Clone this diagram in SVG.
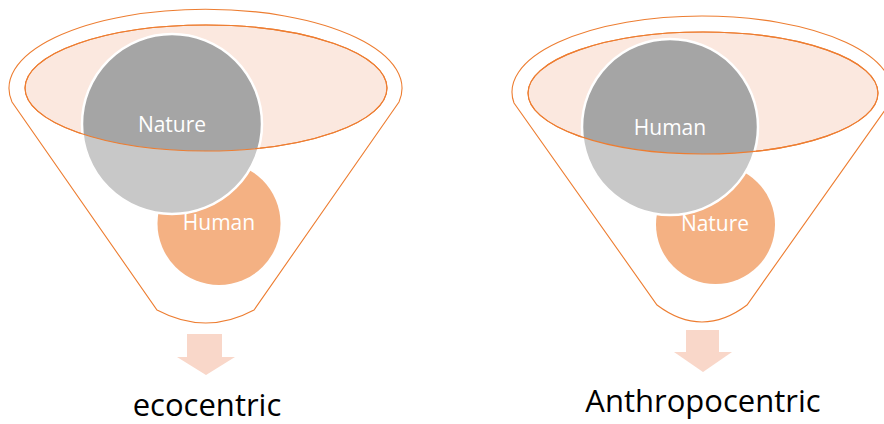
<svg xmlns="http://www.w3.org/2000/svg" width="884" height="424" viewBox="0 0 884 424">
<style>
.funnel{fill:#ffffff;stroke:#ed7d31;stroke-width:1.1}
.rim{fill:#fbe8df;stroke:#ed7d31;stroke-width:1.1}
.rimline{fill:none;stroke:#ed7d31;stroke-width:1.1}
.orange{fill:#f4b183}
.grayL{fill:#c8c8c8}
.grayD{fill:#a5a5a5}
.ring{fill:none;stroke:#ffffff;stroke-width:2.5}
.lbl{font-family:"Open Sans","Liberation Sans",sans-serif;font-size:21px;fill:#ffffff;text-anchor:middle}
.cap{font-family:"Open Sans","Liberation Sans",sans-serif;font-size:31px;fill:#000000;text-anchor:middle}
.arrow{fill:#f9d7c9}
</style>
<defs>
<clipPath id="clipL"><ellipse cx="206" cy="88" rx="181" ry="63"/></clipPath>
<clipPath id="clipR"><ellipse cx="703" cy="93" rx="175" ry="61"/></clipPath>
</defs>

<g id="funnel-left">
<path class="funnel" d="M12,102 A196.5,79 0 1 1 399,102 L254,310 Q206,336 157,310 Z"/>
<ellipse class="rim" cx="206" cy="88" rx="181" ry="63"/>
</g>
<g id="human-left">
<circle class="orange" cx="219" cy="223.5" r="61.5"/>
<text class="lbl" x="219" y="230">Human</text>
</g>
<g id="nature-left">
<circle class="grayL" cx="172" cy="124" r="90"/>
<circle class="grayD" cx="172" cy="124" r="90" clip-path="url(#clipL)"/>
<circle class="ring" cx="172" cy="124" r="90"/>
<ellipse class="rimline" cx="206" cy="88" rx="181" ry="63"/>
<text class="lbl" x="172" y="132">Nature</text>
</g>

<g id="funnel-right">
<path class="funnel" d="M514,103 A190,76 0 1 1 890,103 L747,305 Q702,339 657,305 Z"/>
<ellipse class="rim" cx="703" cy="93" rx="175" ry="61"/>
</g>
<g id="nature-right">
<circle class="orange" cx="715.5" cy="224.5" r="59.5"/>
<text class="lbl" x="715" y="231">Nature</text>
</g>
<g id="human-right">
<circle class="grayL" cx="670" cy="127" r="88"/>
<circle class="grayD" cx="670" cy="127" r="88" clip-path="url(#clipR)"/>
<circle class="ring" cx="670" cy="127" r="88"/>
<ellipse class="rimline" cx="703" cy="93" rx="175" ry="61"/>
<text class="lbl" x="670" y="135">Human</text>
</g>

<g id="connectors">
<path class="arrow" d="M187,334 H222 V357 H235 L206,375 L177,357 H187 Z"/>
<path class="arrow" d="M686,330 H719 V352 H732 L703,372 L674,352 H686 Z"/>
</g>

<g id="label-ecocentric">
<text class="cap" x="207" y="416">ecocentric</text>
</g>
<g id="label-anthropocentric">
<text class="cap" x="703" y="412">Anthropocentric</text>
</g>
</svg>
